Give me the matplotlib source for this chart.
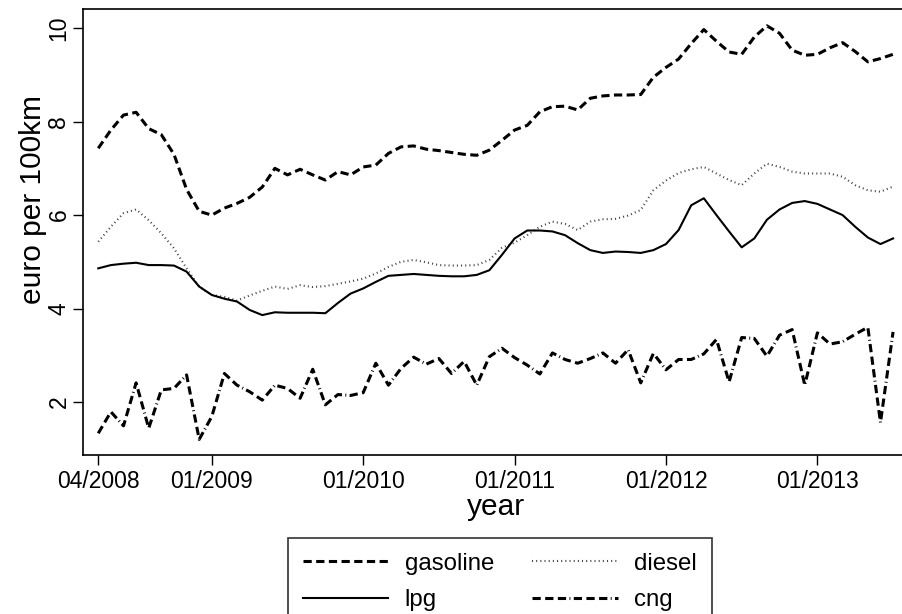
# fuel cost per 100km, monthly, 04/2008 - 07/2013
# four fuels drawn in black with different line patterns (stata-ish look)

import matplotlib
matplotlib.use("Agg")
import matplotlib.pyplot as plt
import numpy as np
import pandas as pd

plt.rcParams.update({
    "font.family": ["Liberation Sans", "DejaVu Sans"],
})

# x categories: one entry per month
months = pd.period_range("2008-04", "2013-07", freq="M").strftime("%m/%Y").tolist()
tick_labels = ["04/2008", "01/2009", "01/2010", "01/2011", "01/2012", "01/2013"]

gasoline = [7.43, 7.82, 8.14, 8.20, 7.85, 7.72, 7.30, 6.55, 6.08, 6.00,
            6.15, 6.25, 6.38, 6.60, 7.00, 6.86, 6.98, 6.86, 6.75, 6.93,
            6.86, 7.03, 7.07, 7.32, 7.46, 7.48, 7.41, 7.38, 7.34, 7.30,
            7.28, 7.39, 7.60, 7.82, 7.92, 8.21, 8.32, 8.33, 8.25, 8.50,
            8.55, 8.57, 8.57, 8.58, 8.95, 9.16, 9.34, 9.67, 9.97, 9.72,
            9.49, 9.44, 9.81, 10.05, 9.89, 9.53, 9.42, 9.44, 9.58, 9.69,
            9.50, 9.28, 9.35, 9.44]

diesel = [5.43, 5.75, 6.04, 6.12, 5.89, 5.61, 5.29, 4.86, 4.47, 4.29,
          4.25, 4.17, 4.28, 4.38, 4.47, 4.42, 4.50, 4.46, 4.48, 4.53,
          4.58, 4.64, 4.75, 4.89, 5.00, 5.04, 4.99, 4.93, 4.92, 4.92,
          4.93, 5.04, 5.30, 5.41, 5.57, 5.75, 5.86, 5.81, 5.68, 5.86,
          5.91, 5.92, 5.99, 6.11, 6.53, 6.74, 6.90, 6.98, 7.03, 6.89,
          6.75, 6.64, 6.89, 7.10, 7.03, 6.93, 6.89, 6.89, 6.89, 6.82,
          6.64, 6.53, 6.50, 6.61]

lpg = [4.86, 4.93, 4.96, 4.98, 4.93, 4.93, 4.92, 4.79, 4.47, 4.29,
       4.21, 4.15, 3.97, 3.86, 3.92, 3.91, 3.91, 3.91, 3.90, 4.12,
       4.32, 4.43, 4.57, 4.70, 4.72, 4.74, 4.72, 4.70, 4.69, 4.69,
       4.72, 4.82, 5.15, 5.50, 5.67, 5.67, 5.65, 5.57, 5.40, 5.25,
       5.19, 5.22, 5.21, 5.19, 5.25, 5.38, 5.68, 6.21, 6.36, 6.00,
       5.65, 5.31, 5.50, 5.90, 6.12, 6.26, 6.30, 6.24, 6.12, 6.00,
       5.75, 5.52, 5.38, 5.50]

cng = [1.33, 1.79, 1.49, 2.41, 1.44, 2.26, 2.29, 2.58, 1.20, 1.69,
       2.61, 2.36, 2.22, 2.04, 2.36, 2.29, 2.08, 2.70, 1.94, 2.16,
       2.14, 2.20, 2.83, 2.36, 2.72, 2.96, 2.81, 2.93, 2.61, 2.87,
       2.36, 2.97, 3.15, 2.95, 2.79, 2.60, 3.05, 2.91, 2.83, 2.93,
       3.05, 2.83, 3.12, 2.41, 3.04, 2.69, 2.91, 2.91, 3.03, 3.34,
       2.43, 3.38, 3.36, 2.98, 3.43, 3.55, 2.36, 3.48, 3.24, 3.29,
       3.45, 3.60, 1.56, 3.50]

W, H = 903, 614
fig = plt.figure(figsize=(W / 100, H / 100), dpi=100)
# plot region: left spine at 83px, right spine sits just past the image edge (cropped)
ax = fig.add_axes([83 / W, (H - 455) / H, (912 - 83) / W, (455 - 9) / H])

x = np.arange(len(months))

l_gas, = ax.plot(x, gasoline, color="black", lw=2.2, dashes=(2.7, 1.45), label="gasoline")
l_die, = ax.plot(x, diesel, color="#444444", lw=1.5, dashes=(0.5, 1.5), label="diesel")
l_lpg, = ax.plot(x, lpg, color="black", lw=1.5, label="lpg")
l_cng, = ax.plot(x, cng, color="black", lw=2.2,
                 dashes=(2.7, 1.45, 2.7, 1.45, 2.7, 1.1, 0.3, 1.1), label="cng")

ax.set_xlim(-1.21, 64.5)
ax.set_ylim(0.866, 10.41)

ticks = [months.index(t) for t in tick_labels]
ax.set_xticks(ticks)
ax.set_xticklabels(tick_labels, fontsize=16.5)
ax.set_yticks([2, 4, 6, 8, 10])
ax.set_yticklabels(["2", "4", "6", "8", "10"], fontsize=16.5)
plt.setp(ax.get_yticklabels(), rotation=90, va="center")

ax.tick_params(axis="both", length=7, width=1.0, color="black")
ax.tick_params(axis="x", pad=4)
ax.tick_params(axis="y", pad=2)
for side in ("left", "bottom", "top", "right"):
    ax.spines[side].set_linewidth(1.2)

ax.set_xlabel("year", fontsize=21.5, va="baseline")
ax.xaxis.set_label_coords(0.498, -0.1345)
ax.set_ylabel("euro per 100km", fontsize=21.5, va="center", ha="center")
ax.yaxis.set_label_coords(-0.060, 0.572)

leg = fig.legend(
    [l_gas, l_lpg, l_die, l_cng],
    ["gasoline", "lpg", "diesel", "cng"],
    ncol=2,
    loc="upper left",
    bbox_to_anchor=(288 / W, (H - 537.7) / H),
    fontsize=17.3,
    frameon=True,
    fancybox=False,
    handlelength=3.55,
    handletextpad=0.68,
    columnspacing=1.6,
    labelspacing=0.6,
    borderpad=0.62,
    borderaxespad=0,
)
leg.get_frame().set_edgecolor("black")
leg.get_frame().set_linewidth(1.2)

fig.savefig("out.png", dpi=100)
